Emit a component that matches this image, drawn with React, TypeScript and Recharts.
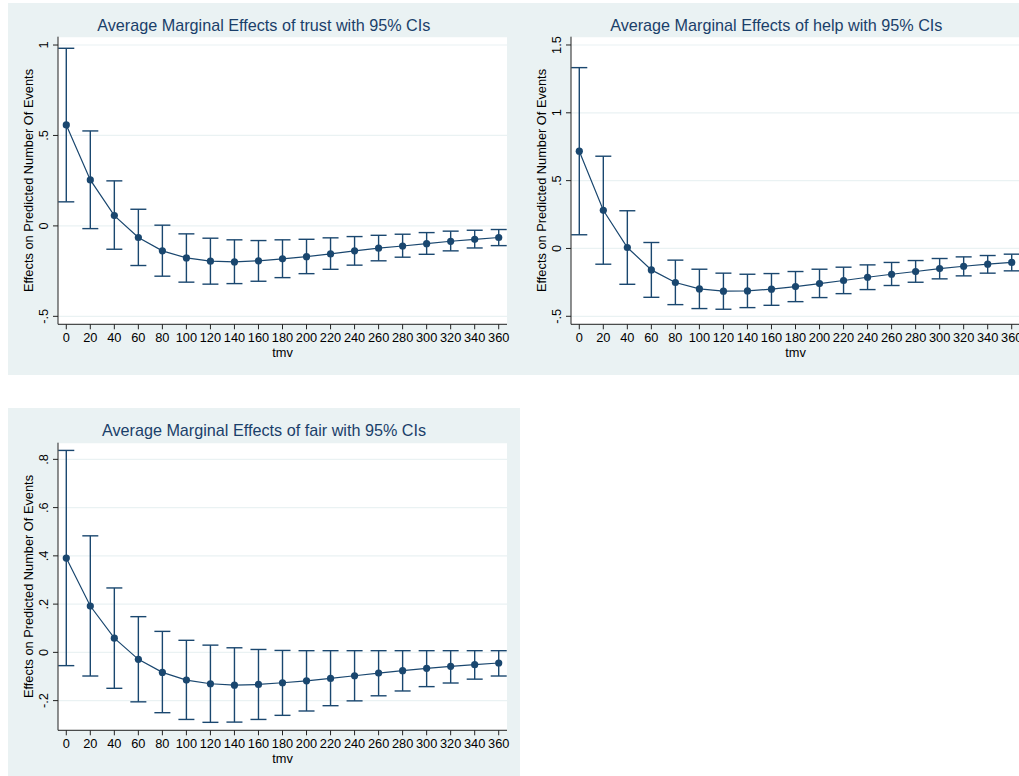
import React from 'react';
import { ComposedChart, Line, XAxis, YAxis, CartesianGrid, ErrorBar } from 'recharts';

const tmv = [0, 20, 40, 60, 80, 100, 120, 140, 160, 180, 200, 220, 240, 260, 280, 300, 320, 340, 360];

const trustMargin = [0.558, 0.254, 0.057, -0.064, -0.138, -0.177, -0.195, -0.199, -0.193, -0.182, -0.170, -0.155, -0.138, -0.123, -0.111, -0.098, -0.085, -0.074, -0.064];
const trustLower = [0.133, -0.015, -0.129, -0.219, -0.278, -0.311, -0.322, -0.319, -0.306, -0.286, -0.264, -0.240, -0.217, -0.193, -0.173, -0.157, -0.138, -0.122, -0.109];
const trustUpper = [0.982, 0.525, 0.249, 0.092, 0.004, -0.044, -0.068, -0.077, -0.081, -0.077, -0.074, -0.066, -0.059, -0.052, -0.046, -0.037, -0.029, -0.024, -0.020];

const helpMargin = [0.717, 0.281, 0.007, -0.158, -0.251, -0.298, -0.315, -0.313, -0.300, -0.281, -0.259, -0.236, -0.212, -0.190, -0.170, -0.148, -0.131, -0.116, -0.103];
const helpLower = [0.101, -0.116, -0.264, -0.360, -0.414, -0.443, -0.448, -0.436, -0.419, -0.392, -0.362, -0.333, -0.303, -0.273, -0.249, -0.224, -0.202, -0.182, -0.165];
const helpUpper = [1.333, 0.680, 0.278, 0.044, -0.086, -0.153, -0.182, -0.190, -0.185, -0.170, -0.153, -0.138, -0.121, -0.103, -0.089, -0.074, -0.062, -0.052, -0.042];

const fairMargin = [0.391, 0.192, 0.059, -0.029, -0.083, -0.115, -0.130, -0.136, -0.133, -0.126, -0.118, -0.108, -0.097, -0.086, -0.076, -0.066, -0.058, -0.051, -0.044];
const fairLower = [-0.055, -0.098, -0.149, -0.205, -0.250, -0.278, -0.290, -0.289, -0.278, -0.261, -0.243, -0.221, -0.201, -0.180, -0.160, -0.142, -0.127, -0.111, -0.098];
const fairUpper = [0.837, 0.483, 0.267, 0.148, 0.087, 0.050, 0.030, 0.019, 0.012, 0.008, 0.007, 0.007, 0.007, 0.007, 0.007, 0.007, 0.007, 0.007, 0.007];

const trustTicks = [-0.5, 0, 0.5, 1];
const helpTicks = [-0.5, 0, 0.5, 1, 1.5];
const fairTicks = [-0.2, 0, 0.2, 0.4, 0.6, 0.8];

const xLabel = 'tmv';
const yLabel = 'Effects on Predicted Number Of Events';
const titles = [
  'Average Marginal Effects of trust with 95% CIs',
  'Average Marginal Effects of help with 95% CIs',
  'Average Marginal Effects of fair with 95% CIs',
];

const NAVY = '#1a476f';
const BG = '#eaf2f3';
const FONT = '"Liberation Sans", Arial, Helvetica, sans-serif';
const FS = 12.8;

const fmt = (v: number) => {
  if (Math.abs(v) < 1e-9) return '0';
  let s = String(Math.round(v * 100) / 100);
  s = s.replace(/^0\./, '.').replace(/^-0\./, '-.');
  return s;
};

const build = (est: number[], lo: number[], hi: number[]) =>
  tmv.map((x, i) => ({ x, y: est[i], err: [est[i] - lo[i], hi[i] - est[i]] }));

const YTick = (props: any) => {
  const { x, y, payload } = props;
  return (
    <text x={x} y={y} transform={`rotate(-90, ${x}, ${y})`} textAnchor="middle" fontSize={FS} fontFamily={FONT} fill="#000">
      {fmt(payload.value)}
    </text>
  );
};

type PanelProps = {
  data: any[];
  ticks: number[];
  domain: [number, number];
  left: number;
  top: number;
};

const W = 507;
const H = 372;

const Panel = ({ data, ticks, domain, left, top }: PanelProps) => (
  <div style={{ position: 'absolute', left, top, width: W, height: H }}>
    <ComposedChart width={W} height={H} data={data} margin={{ top: 33.7, right: 8, bottom: 0, left: 0 }}>
      <CartesianGrid vertical={false} stroke={BG} strokeWidth={1.2} fill="#ffffff" />
      <XAxis
        dataKey="x"
        type="number"
        domain={[-6.9, 366.9]}
        ticks={tmv}
        interval={0}
        allowDataOverflow
        height={H - 33.7 - 287.6}
        tickSize={5}
        tickMargin={4}
        stroke="#222"
        tick={{ fontSize: FS, fill: '#000', fontFamily: FONT }}
        label={{
          content: (p: any) => {
            const vb = p.viewBox || { x: 50, y: 321.3, width: 449 };
            return (
              <text x={vb.x + vb.width / 2} y={vb.y + 32.4} textAnchor="middle" fontSize={FS} fontFamily={FONT} fill="#000">
                {xLabel}
              </text>
            );
          },
        }}
      />
      <YAxis
        type="number"
        domain={domain}
        ticks={ticks}
        interval={0}
        allowDataOverflow
        width={50}
        tickSize={5}
        tickMargin={5}
        stroke="#222"
        tick={<YTick />}
        label={{
          content: (p: any) => {
            const vb = p.viewBox || { x: 0, y: 33.7, width: 50, height: 287.6 };
            const cx = vb.x + vb.width - 25;
            const cy = vb.y + vb.height / 2;
            return (
              <text x={cx} y={cy} transform={`rotate(-90, ${cx}, ${cy})`} textAnchor="middle" fontSize={FS} fontFamily={FONT} fill="#000">
                {yLabel}
              </text>
            );
          },
        }}
      />
      <Line
        dataKey="y"
        stroke={NAVY}
        strokeWidth={1.2}
        isAnimationActive={false}
        dot={{ r: 3.6, fill: NAVY, stroke: NAVY, strokeWidth: 0 }}
        activeDot={false}
      >
        <ErrorBar dataKey="err" direction="y" width={8} stroke={NAVY} strokeWidth={1.4} isAnimationActive={false} />
      </Line>
    </ComposedChart>
  </div>
);

export default function App() {
  const trustData = build(trustMargin, trustLower, trustUpper);
  const helpData = build(helpMargin, helpLower, helpUpper);
  const fairData = build(fairMargin, fairLower, fairUpper);
  return (
    <div style={{ position: 'absolute', left: 0, top: 0, width: 1019, height: 776, overflow: 'hidden', background: '#fff' }}>
      <div style={{ position: 'absolute', left: 8, top: 3, width: 1011, height: 372, background: BG }} />
      <div style={{ position: 'absolute', left: 8, top: 408, width: 512, height: 368, background: BG }} />
      <Panel data={trustData} ticks={trustTicks} domain={[-0.544, 1.046]} left={8} top={3} />
      <Panel data={helpData} ticks={helpTicks} domain={[-0.559, 1.561]} left={520.7} top={3} />
      <Panel data={fairData} ticks={fairTicks} domain={[-0.323, 0.869]} left={8} top={409} />
      <svg style={{ position: 'absolute', left: 0, top: 0, pointerEvents: 'none' }} width={1019} height={776}>
        <text x={263.8} y={30.7} textAnchor="middle" fontSize={16.2} fontFamily={FONT} fill="#1a3f6a">{titles[0]}</text>
        <text x={776.3} y={30.7} textAnchor="middle" fontSize={16.2} fontFamily={FONT} fill="#1a3f6a">{titles[1]}</text>
        <text x={264} y={436} textAnchor="middle" fontSize={16.2} fontFamily={FONT} fill="#1a3f6a">{titles[2]}</text>
      </svg>
    </div>
  );
}
